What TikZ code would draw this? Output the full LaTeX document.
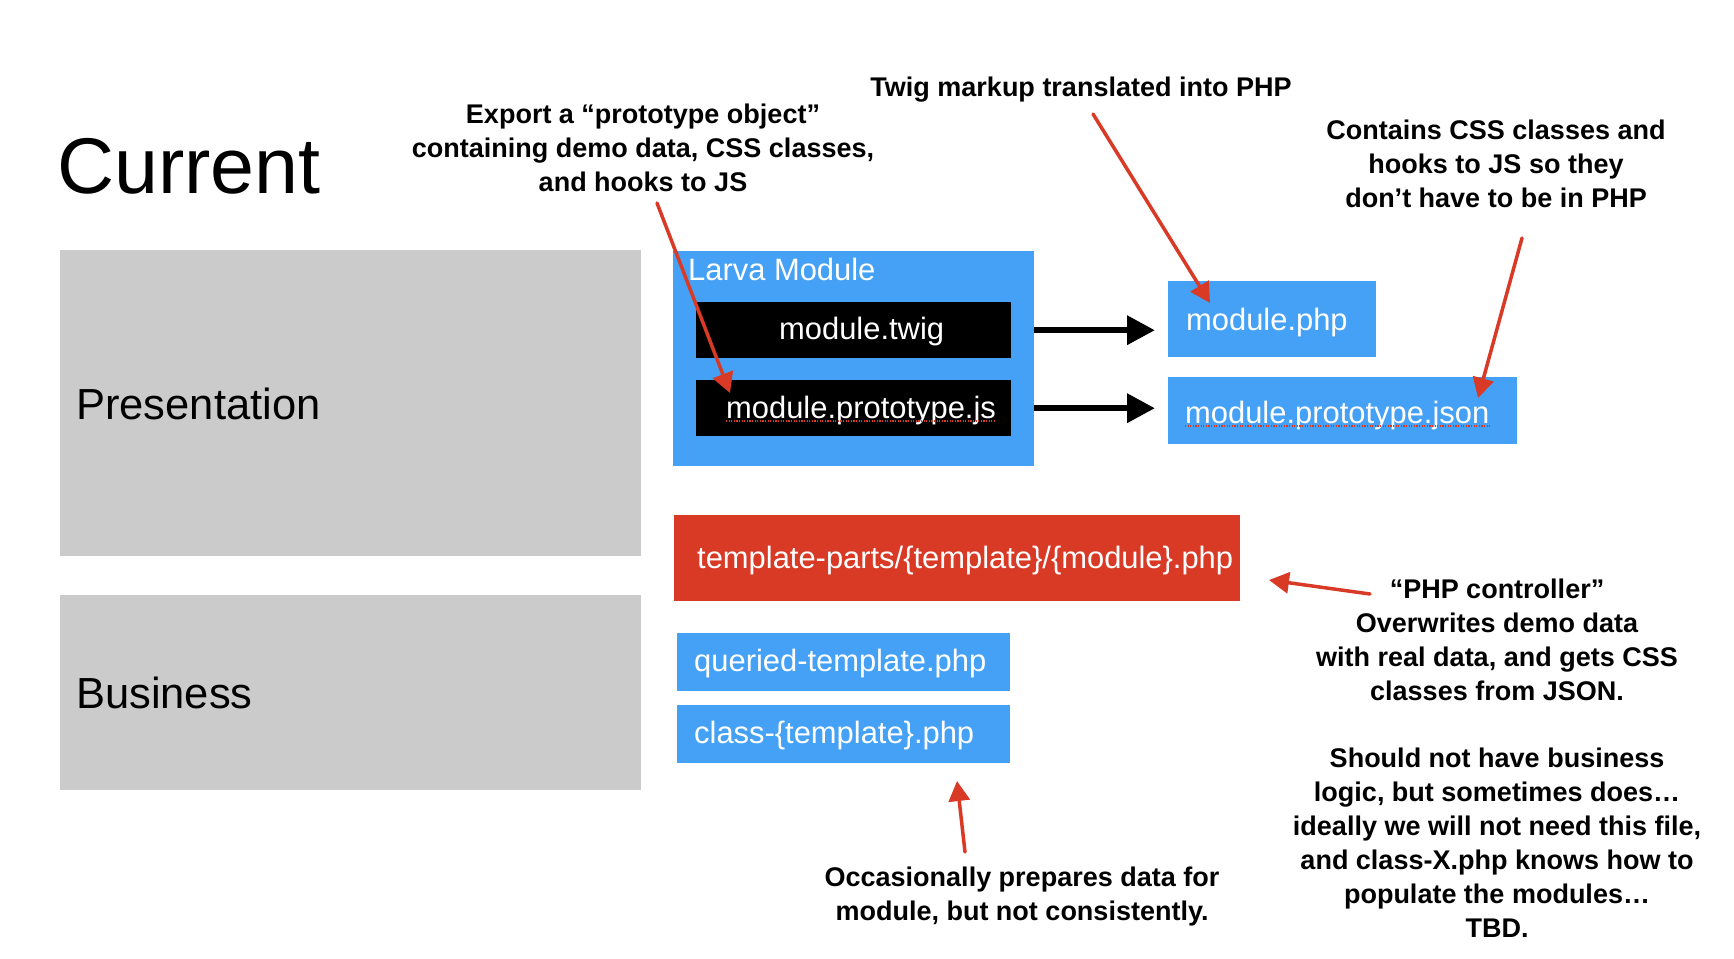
\documentclass[tikz,border=0pt]{standalone}
\usepackage{fontspec}
\setmainfont{Liberation Sans}
\usetikzlibrary{arrows.meta}
\definecolor{boxblue}{HTML}{45A1F6}
\definecolor{boxred}{HTML}{D93A26}
\definecolor{layergray}{HTML}{CBCBCB}
\begin{document}
\begin{tikzpicture}[x=1pt,y=-1pt,
  layerbox/.style={fill=layergray, inner sep=0pt, anchor=north west},
  bluebox/.style={fill=boxblue, inner sep=0pt, anchor=north west},
  filebox/.style={fill=black, inner sep=0pt, anchor=north west},
  redbox/.style={fill=boxred, inner sep=0pt, anchor=north west},
  boxtext/.style={text=white, font=\fontsize{30.9}{36}\selectfont, inner sep=0pt, anchor=base west},
  layertext/.style={font=\fontsize{43.5}{50}\selectfont, inner sep=0pt, anchor=base west},
  % multi-line notes are placed by the baseline of their last line
  note/.style={font=\bfseries\fontsize{27}{34}\selectfont, align=center, inner sep=0pt, anchor=base},
  pointer/.style={draw=boxred, line width=3.5pt, line cap=round, -{Triangle[length=20pt,width=21pt]}},
  flow/.style={line width=6.5pt, -{Triangle[length=28pt,width=28pt]}},
  spell/.style={draw=boxred, line width=1.2pt, dash pattern=on 1.2pt off 1.4pt}]

% canvas
\fill[white] (0,0) rectangle (1734,958);
\useasboundingbox (0,0) rectangle (1734,958);

% heading
\node[anchor=base west, inner sep=0pt, font=\fontsize{79}{84}\selectfont] (heading) at (57,193) {Current};

% layers
\node[layerbox, minimum width=581pt, minimum height=306pt] (pres) at (60,250) {};
\node[layertext] (presTxt) at (76,419) {Presentation};
\node[layerbox, minimum width=581pt, minimum height=195pt] (bus) at (60,595) {};
\node[layertext] (busTxt) at (76,708) {Business};

% Larva module container
\node[bluebox, minimum width=361pt, minimum height=215pt] (larva) at (673,251) {};
\node[boxtext] (larvaTxt) at (688,280) {Larva Module};
\node[filebox, minimum width=315pt, minimum height=56pt] (twig) at (696,302) {};
\node[boxtext] (twigTxt) at (779,339) {module.twig};
\node[filebox, minimum width=315pt, minimum height=56pt] (protojs) at (696,380) {};
\node[boxtext] (protojsTxt) at (726,418) {module.prototype.js};
\draw[spell] ([yshift=-3pt]protojsTxt.base west) -- ([yshift=-3pt]protojsTxt.base east);

% generated files
\node[bluebox, minimum width=208pt, minimum height=76pt] (php) at (1168,281) {};
\node[boxtext] (phpTxt) at (1186,330) {module.php};
\node[bluebox, minimum width=349pt, minimum height=67pt] (json) at (1168,377) {};
\node[boxtext] (jsonTxt) at (1185,423) {module.prototype.json};
\draw[spell] ([yshift=-3pt]jsonTxt.base west) -- ([yshift=-3pt]jsonTxt.base east);

% build steps
\draw[flow] (larva.east |- twig.east) -- ([xshift=-13pt]php.west |- twig.east);
\draw[flow] (larva.east |- protojs.east) -- ([xshift=-13pt]json.west |- protojs.east);

% controller and business files
\node[redbox, minimum width=566pt, minimum height=86pt] (controller) at (674,515) {};
\node[boxtext] (controllerTxt) at (697,568) {template-parts/\{template\}/\{module\}.php};
\node[bluebox, minimum width=333pt, minimum height=58pt] (queried) at (677,633) {};
\node[boxtext] (queriedTxt) at (694,671) {queried-template.php};
\node[bluebox, minimum width=333pt, minimum height=58pt] (classfile) at (677,705) {};
\node[boxtext] (classTxt) at (694,743) {class-\{template\}.php};

% notes
\node[note] (exportNote) at (643,191) {Export a “prototype object”\\containing demo data, CSS classes,\\and hooks to JS};
\node[note] (twigNote) at (1081,96) {Twig markup translated into PHP};
\node[note] (cssNote) at (1496,207) {Contains CSS classes and\\hooks to JS so they\\don’t have to be in PHP};
\node[note] (controllerNote) at (1497,937) {“PHP controller”\\Overwrites demo data\\with real data, and gets CSS\\classes from JSON.\\[33pt]Should not have business\\logic, but sometimes does…\\ideally we will not need this file,\\and class-X.php knows how to\\populate the modules…\\TBD.};
\node[note] (classNote) at (1022,920) {Occasionally prepares data for\\module, but not consistently.};

% pointers from the notes
\coordinate (exportTail) at (657,203);
\coordinate (exportTip) at (730,393);
\coordinate (twigTail) at (1093,114);
\coordinate (twigTip) at (1210,303);
\coordinate (cssTail) at (1522,238);
\coordinate (cssTip) at (1478,398);
\coordinate (controllerTail) at (1370,594);
\coordinate (controllerTip) at (1269,580);
\coordinate (classTail) at (965,852);
\coordinate (classTip) at (957,781);
\draw[pointer] (exportTail) -- (exportTip);
\draw[pointer] (twigTail) -- (twigTip);
\draw[pointer] (cssTail) -- (cssTip);
\draw[pointer] (controllerTail) -- (controllerTip);
\draw[pointer] (classTail) -- (classTip);
\end{tikzpicture}
\end{document}
